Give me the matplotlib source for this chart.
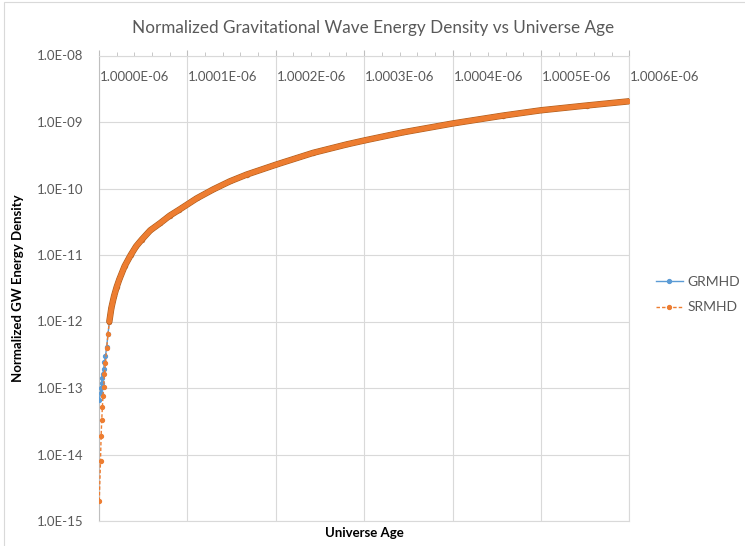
import numpy as np
import matplotlib
matplotlib.use("Agg")
import matplotlib.pyplot as plt
import matplotlib.patheffects as pe
from matplotlib.ticker import MultipleLocator, NullFormatter
from matplotlib.patches import Rectangle

plt.rcParams['font.family'] = ['Lato', 'DejaVu Sans']

# universe age in units of 1e-10 s after 1.0e-6 s
age_offset = [0.003, 0.017, 0.024, 0.031, 0.038, 0.045, 0.052, 0.062, 0.073, 0.087,
              0.102, 0.117, 0.14, 0.17, 0.2, 0.23, 0.29, 0.359, 0.42, 0.483, 0.58, 0.69,
              0.8, 0.908, 1.105, 1.293, 1.48, 1.671, 2.01, 2.424, 2.802, 3.009,
              3.442, 4.001, 4.574, 5.0, 5.517, 6.0]
grmhd = [6.5e-14, 8.5e-14, 1.0e-13, 1.2e-13, 1.4e-13, 1.65e-13, 1.9e-13, 2.5e-13, 3.0e-13, 4.2e-13,
         6.5e-13, 1.0e-12, 1.6e-12, 2.4e-12, 3.3e-12, 4.3e-12, 6.8e-12, 1.0e-11, 1.35e-11, 1.7e-11,
         2.35e-11, 3.0e-11, 3.9e-11, 4.8e-11, 7.1e-11, 9.7e-11, 1.28e-10, 1.62e-10, 2.3e-10, 3.44e-10,
         4.6e-10, 5.3e-10, 7.0e-10, 9.5e-10, 1.25e-9, 1.5e-9, 1.77e-9, 2.05e-9]
srmhd = [2.0e-15, 8.1e-15, 1.9e-14, 3.3e-14, 5.1e-14, 7.6e-14, 1.02e-13, 1.6e-13, 2.4e-13, 4.0e-13,
         6.5e-13, 1.0e-12, 1.6e-12, 2.4e-12, 3.3e-12, 4.3e-12, 6.8e-12, 1.0e-11, 1.35e-11, 1.7e-11,
         2.35e-11, 3.0e-11, 3.9e-11, 4.8e-11, 7.1e-11, 9.7e-11, 1.28e-10, 1.62e-10, 2.3e-10, 3.44e-10,
         4.6e-10, 5.3e-10, 7.0e-10, 9.5e-10, 1.25e-9, 1.5e-9, 1.77e-9, 2.05e-9]
x_ticks = [1.0000e-06, 1.0001e-06, 1.0002e-06, 1.0003e-06, 1.0004e-06, 1.0005e-06, 1.0006e-06]
y_ticks = [1e-15, 1e-14, 1e-13, 1e-12, 1e-11, 1e-10, 1e-9, 1e-8]

age = 1.0e-6 + np.array(age_offset) * 1e-10

grey = '#595959'
blue = '#5B9BD5'
orange = '#ED7D31'

fig = plt.figure(figsize=(7.45, 5.46), dpi=100)
fig.patches.append(Rectangle((4 / 745, -0.1), 1.2, 1.1 - 2 / 546, transform=fig.transFigure,
                             fill=False, edgecolor='#d9d9d9', linewidth=0.8))
ax = fig.add_axes([99 / 745, 1 - 521 / 546, 530.3 / 745, 465.5 / 546])

# thin series with markers (visible at the sparse start)
ax.plot(age, grmhd, color=blue, lw=1.0, marker='o', ms=2.8, label='GRMHD', zorder=3)
ax.plot(age, srmhd, color=orange, lw=1.0, ls=(0, (2.5, 1.5)), marker='o', ms=2.8,
        label='SRMHD', zorder=4)

# dense part of the curve looks like a thick band of markers
i0 = 11
ax.plot(age[i0:], grmhd[i0:], color=blue, lw=3.6, solid_capstyle='round', zorder=3)
ax.plot(age[i0:], srmhd[i0:], color=orange, lw=3.4, solid_capstyle='round', zorder=5,
        path_effects=[pe.withStroke(linewidth=4.6, foreground='#b4601f'), pe.Normal()])

ax.set_yscale('log')
ax.set_ylim(1e-15, 1e-8)
ax.set_xlim(x_ticks[0], x_ticks[-1])
ax.set_yticks(y_ticks)
ax.set_yticklabels([f"{v:.1E}" for v in y_ticks])
ax.yaxis.set_minor_formatter(NullFormatter())
ax.tick_params(axis='y', which='both', length=0, pad=11, labelsize=9.5, labelcolor=grey)

ax.xaxis.set_ticks_position('top')
ax.set_xticks(x_ticks)
ax.xaxis.set_minor_locator(MultipleLocator(0.00002e-6))
ax.tick_params(axis='x', which='major', length=4, color='#bfbfbf', labeltop=False, labelbottom=False)
ax.tick_params(axis='x', which='minor', length=3, color='#bfbfbf')
for t in x_ticks:
    ax.text(t + 0.000001e-6, 0.954, f"{t:.4E}", transform=ax.get_xaxis_transform(),
            ha='left', va='center', fontsize=9.5, color=grey)

ax.grid(True, which='major', color='#d9d9d9', lw=0.8)
ax.set_axisbelow(True)
for side in ['right', 'bottom', 'top']:
    ax.spines[side].set_color('#d9d9d9')
    ax.spines[side].set_linewidth(0.8)
ax.spines['left'].set_color('#bfbfbf')
ax.spines['left'].set_linewidth(0.8)

fig.text(373 / 745, 1 - 28 / 546, 'Normalized Gravitational Wave Energy Density vs Universe Age',
         ha='center', va='center', fontsize=12.3, color=grey)
fig.text(364 / 745, 1 - 533 / 546, 'Universe Age', ha='center', va='center',
         fontsize=9.5, fontweight='bold', color='black')
fig.text(18 / 745, 1 - 288 / 546, 'Normalized GW Energy Density', ha='center', va='center',
         rotation=90, fontsize=9.5, fontweight='bold', color='black')

leg = ax.legend(loc='center left', bbox_to_anchor=(650 / 745, 1 - 294.5 / 546),
                bbox_transform=fig.transFigure, frameon=False, fontsize=10,
                handlelength=2.0, handletextpad=0.3, labelspacing=1.0, borderaxespad=0)
for txt in leg.get_texts():
    txt.set_color(grey)

fig.savefig('out.png', dpi=100)
